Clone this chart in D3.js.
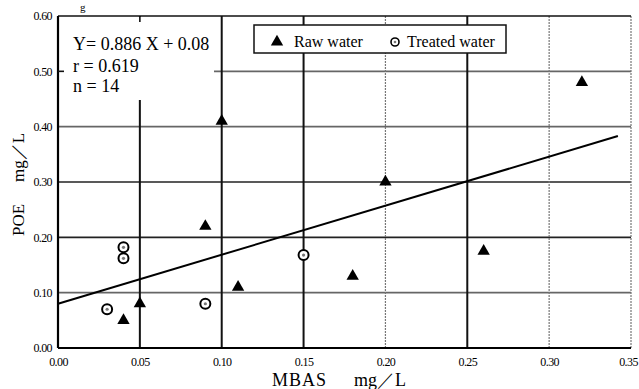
<!DOCTYPE html>
<html>
<head>
<meta charset="utf-8">
<script src="https://cdn.jsdelivr.net/npm/d3@7"></script>
<style>
	body { margin: 0; background: #fff; }
	svg { display: block; font-family: "Liberation Serif", "DejaVu Serif", serif; }
	.tick-label { font-family: "Liberation Serif", serif; font-size: 12px; letter-spacing: -0.6px; fill: #000; }
</style>
</head>
<body>
<svg id="chart" width="639" height="389"></svg>
<script>
// raw water (triangles)
var rawX = [0.04, 0.05, 0.09, 0.10, 0.11, 0.18, 0.20, 0.26, 0.32];
var rawY = [0.05, 0.08, 0.22, 0.41, 0.11, 0.13, 0.30, 0.175, 0.48];
// treated water (circles)
var treatedX = [0.03, 0.04, 0.04, 0.09, 0.15];
var treatedY = [0.07, 0.182, 0.162, 0.08, 0.168];
// regression Y = 0.886 X + 0.08
var slope = 0.886, intercept = 0.08, lineEnd = 0.342;
var xTicks = [0, 0.05, 0.10, 0.15, 0.20, 0.25, 0.30, 0.35];
var yTicks = [0, 0.10, 0.20, 0.30, 0.40, 0.50, 0.60];
var statLines = ["Y= 0.886 X + 0.08", "r = 0.619", "n = 14"];
var legendLabels = ["Raw water", "Treated water"];

window.addEventListener("load", function () {
	var svg = d3.select("#chart");
	var x = d3.scaleLinear().domain([0, 0.35]).range([58, 631]);
	var y = d3.scaleLinear().domain([0, 0.60]).range([348, 16]);
	var fmt = d3.format(".2f");

	// horizontal grid
	svg.append("g").selectAll("line")
		.data(yTicks.filter(function(d) { return d > 0 && d < 0.6; }))
		.enter().append("line")
		.attr("x1", x(0)).attr("x2", x(0.35))
		.attr("y1", function(d) { return y(d); }).attr("y2", function(d) { return y(d); })
		.attr("stroke", function(d) { return d == 0.10 || d == 0.40 || d == 0.50 ? "#666" : "#222"; })
		.attr("stroke-width", 1.6);

	// vertical grid, some solid and some faint (scanned look)
	var faint = [0.20, 0.30, 0.35];
	svg.append("g").selectAll("line")
		.data(xTicks.filter(function(d) { return d > 0; }))
		.enter().append("line")
		.attr("x1", function(d) { return x(d); }).attr("x2", function(d) { return x(d); })
		.attr("y1", y(0.6)).attr("y2", y(0))
		.attr("stroke", function(d) { return faint.indexOf(d) >= 0 ? "#777" : "#111"; })
		.attr("stroke-width", function(d) { return faint.indexOf(d) >= 0 ? 1.2 : 2; })
		.attr("stroke-dasharray", function(d) { return faint.indexOf(d) >= 0 ? "2,1" : null; });

	// white area behind the stats text
	svg.append("rect").attr("x", 59).attr("y", 17).attr("width", 155).attr("height", 83).attr("fill", "#fff");

	// frame
	svg.append("line").attr("x1", x(0)).attr("x2", x(0.35)).attr("y1", y(0.6)).attr("y2", y(0.6))
		.attr("stroke", "#111").attr("stroke-width", 1.6);
	svg.append("line").attr("x1", x(0)).attr("x2", x(0.35)).attr("y1", y(0)).attr("y2", y(0))
		.attr("stroke", "#000").attr("stroke-width", 2.2);
	svg.append("line").attr("x1", x(0)).attr("x2", x(0)).attr("y1", y(0.6)).attr("y2", y(0))
		.attr("stroke", "#000").attr("stroke-width", 2.2);
	// small inner ticks
	svg.append("line").attr("x1", x(0.05)).attr("x2", x(0.05)).attr("y1", y(0.6)).attr("y2", y(0.6) + 6)
		.attr("stroke", "#111").attr("stroke-width", 1.6);
	svg.append("line").attr("x1", x(0)).attr("x2", x(0) + 6).attr("y1", y(0.5)).attr("y2", y(0.5))
		.attr("stroke", "#111").attr("stroke-width", 1.6);

	// tick labels via d3 axes
	var xAxis = svg.append("g").attr("transform", "translate(0," + y(0) + ")")
		.call(d3.axisBottom(x).tickValues(xTicks).tickFormat(fmt).tickSize(0).tickPadding(9));
	var yAxis = svg.append("g").attr("transform", "translate(" + x(0) + ",0)")
		.call(d3.axisLeft(y).tickValues(yTicks).tickFormat(fmt).tickSize(0).tickPadding(6));
	[xAxis, yAxis].forEach(function(a) {
		a.attr("font-family", null).attr("font-size", null);
		a.select(".domain").remove();
		a.selectAll("text").attr("class", "tick-label").attr("fill", null);
	});
	// last x label sits at the page edge, keep it inside
	xAxis.selectAll("text").filter(function(d) { return d == 0.35; }).attr("dx", "-3");

	// regression line
	svg.append("line")
		.attr("x1", x(0)).attr("y1", y(intercept))
		.attr("x2", x(lineEnd)).attr("y2", y(slope * lineEnd + intercept))
		.attr("stroke", "#000").attr("stroke-width", 2);

	var tri = d3.symbol().type(d3.symbolTriangle).size(66);

	// raw water points
	svg.append("g").selectAll("path")
		.data(rawX.map(function(v, i) { return [v, rawY[i]]; }))
		.enter().append("path")
		.attr("d", tri)
		.attr("transform", function(d) { return "translate(" + x(d[0]) + "," + y(d[1]) + ")"; })
		.attr("fill", "#000");

	// treated water points
	var tg = svg.append("g").selectAll("g")
		.data(treatedX.map(function(v, i) { return [v, treatedY[i]]; }))
		.enter().append("g")
		.attr("transform", function(d) { return "translate(" + x(d[0]) + "," + y(d[1]) + ")"; });
	tg.append("circle").attr("r", 5).attr("fill", "#fff").attr("stroke", "#000").attr("stroke-width", 2);
	tg.append("circle").attr("r", 1.6).attr("fill", "#777");

	// stats text
	svg.append("g").selectAll("text")
		.data(statLines).enter().append("text")
		.attr("x", 73).attr("y", function(d, i) { return [50, 72, 92][i]; })
		.attr("font-size", 18).attr("fill", "#000")
		.text(function(d) { return d; });

	// legend
	var legend = svg.append("g");
	legend.append("rect").attr("x", 254).attr("y", 25).attr("width", 252).attr("height", 28)
		.attr("fill", "#fff").attr("stroke", "#111").attr("stroke-width", 1.5);
	legend.append("path").attr("d", tri).attr("transform", "translate(277,42)").attr("fill", "#000");
	legend.append("text").attr("x", 294).attr("y", 47).attr("font-size", 16).text(legendLabels[0]);
	legend.append("circle").attr("cx", 395).attr("cy", 42).attr("r", 4).attr("fill", "#fff")
		.attr("stroke", "#000").attr("stroke-width", 1.6);
	legend.append("circle").attr("cx", 395).attr("cy", 42).attr("r", 1.3).attr("fill", "#777");
	legend.append("text").attr("x", 407).attr("y", 47).attr("font-size", 16).text(legendLabels[1]);

	// axis titles
	svg.append("text").attr("x", 272).attr("y", 386).attr("font-size", 18).attr("letter-spacing", 1).text("MBAS");
	svg.append("text").attr("x", 354).attr("y", 386).attr("font-size", 18).text("mg／L");
	svg.append("text").attr("transform", "translate(24,236) rotate(-90)").attr("font-size", 17).text("POE");
	svg.append("text").attr("transform", "translate(24,182) rotate(-90)").attr("font-size", 17).text("mg／L");

	// caption fragment at the very top (kept small so it stays inside the page)
	svg.append("text").attr("x", 80).attr("y", 11).attr("font-size", 11).text("g");
});
</script>
</body>
</html>
